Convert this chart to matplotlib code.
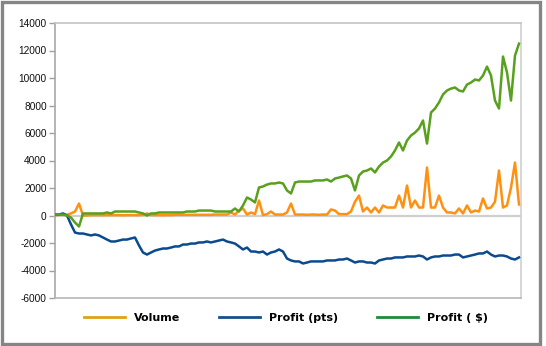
import numpy as np
import matplotlib.pyplot as plt
from matplotlib.lines import Line2D
from matplotlib.patches import Rectangle

# значения (один отсчёт на каждые ~4 px)
volume = [0, 50, 50, 50, 150, 290, 870, 0, 0, 30, 30, 30, 20, 30, 30, 30,
          30, 20, 30, 30, 30, 30, 50, 150, 30, 30, 30, 20, 30, 30, 50, 50,
          50, 50, 50, 50, 50, 50, 50, 50, 70, 70, 70, 70, 220, 70, 360, 510,
          70, 220, 100, 1090, 30, 100, 290, 70, 70, 70, 220, 870, 70, 70, 70, 50,
          70, 70, 50, 70, 70, 440, 360, 100, 100, 100, 290, 1000, 1450, 290, 580, 220,
          580, 220, 730, 580, 580, 580, 1450, 580, 2180, 580, 1090, 580, 580, 3490, 580, 580,
          1450, 580, 220, 220, 150, 510, 150, 730, 220, 360, 290, 1240, 510, 580, 1000, 3270,
          580, 730, 2030, 3850, 800]

profit_pts = [70, 70, 150, 0, -650, -1240, -1310, -1310, -1380, -1450, -1380, -1450, -1600, -1750, -1890, -1890,
              -1820, -1750, -1750, -1670, -1600, -2180, -2690, -2840, -2690, -2550, -2470, -2400, -2400, -2330, -2250, -2250,
              -2110, -2110, -2040, -2040, -1960, -1960, -1890, -1960, -1890, -1820, -1750, -1890, -1960, -2040, -2250, -2470,
              -2330, -2620, -2620, -2690, -2620, -2840, -2690, -2620, -2470, -2620, -3130, -3270, -3340, -3340, -3490, -3420,
              -3340, -3340, -3340, -3340, -3270, -3270, -3270, -3200, -3200, -3130, -3270, -3420, -3340, -3340, -3420, -3420,
              -3490, -3270, -3200, -3130, -3130, -3050, -3050, -3050, -2980, -2980, -2980, -2910, -2980, -3200, -3050, -2980,
              -2980, -2910, -2910, -2910, -2840, -2840, -3050, -2980, -2910, -2840, -2760, -2760, -2620, -2840, -2980, -2910,
              -2910, -2980, -3130, -3200, -3050]

profit_usd = [70, 70, 70, 0, -150, -510, -800, 150, 150, 150, 150, 150, 150, 220, 150, 290,
              290, 290, 290, 290, 290, 220, 150, 0, 150, 150, 220, 220, 220, 220, 220, 220,
              220, 290, 290, 290, 360, 360, 360, 360, 290, 290, 290, 290, 290, 510, 290, 730,
              1310, 1160, 950, 2040, 2110, 2250, 2330, 2330, 2400, 2330, 1820, 1600, 2400, 2470, 2470, 2470,
              2470, 2550, 2550, 2550, 2620, 2470, 2690, 2760, 2840, 2910, 2690, 1820, 2910, 3200, 3270, 3420,
              3130, 3560, 3850, 4000, 4290, 4730, 5310, 4730, 5450, 5820, 6030, 6330, 6910, 5230, 7490, 7780,
              8220, 8800, 9090, 9230, 9310, 9090, 9020, 9520, 9670, 9890, 9820, 10180, 10830, 10180, 8360, 7780,
              11560, 10400, 8360, 11630, 12500]

labels = ['Volume', 'Profit (pts)', 'Profit ( $)']
line_colors = ['#FF9010', '#0B4A8E', '#58A01E']
legend_colors = ['#DDA21A', '#1A4E8A', '#1E8C3A']

yticks = list(range(-6000, 14001, 2000))

fig = plt.figure(figsize=(5.46, 3.46), dpi=100)
ax = fig.add_axes([55 / 546, 48 / 346, 466 / 546, 275 / 346])

x = np.arange(len(volume))
ax.axhline(0, color='#CFCFCF', lw=1.6, zorder=1)
for series, c in zip([volume, profit_pts, profit_usd], line_colors):
    ax.plot(x, series, color=c, lw=1.8, solid_joinstyle='round', zorder=3)

ax.set_xlim(0, 116.5)
ax.set_ylim(-6000, 14000)
ax.set_yticks(yticks)
ax.set_yticklabels([str(t) for t in yticks], fontsize=7.3, family='Liberation Sans', color='#111111')
ax.set_xticks([])
ax.tick_params(axis='y', length=4, width=1, color='#A0A0A0', pad=2)
for side, col in [('left', '#A8A8A8'), ('bottom', '#B8B8B8'), ('top', '#C4C4C4'), ('right', '#D0D0D0')]:
    ax.spines[side].set_color(col)
    ax.spines[side].set_linewidth(1.2)

handles = [Line2D([0], [0], color=c, lw=2) for c in legend_colors]
fig.legend(handles, labels, loc='center', bbox_to_anchor=(286 / 546, 28 / 346), ncol=3,
           frameon=False, prop={'family': 'DejaVu Sans', 'weight': 'bold', 'size': 8},
           handlelength=3.7, handletextpad=0.8, columnspacing=3.5)

# рамка вокруг диаграммы
fig.patches.append(Rectangle((1.5 / 546, 2.5 / 346), 538 / 546, 342 / 346, transform=fig.transFigure,
                             fill=False, edgecolor='#858585', lw=2.4))

fig.savefig('out.png', dpi=100)
